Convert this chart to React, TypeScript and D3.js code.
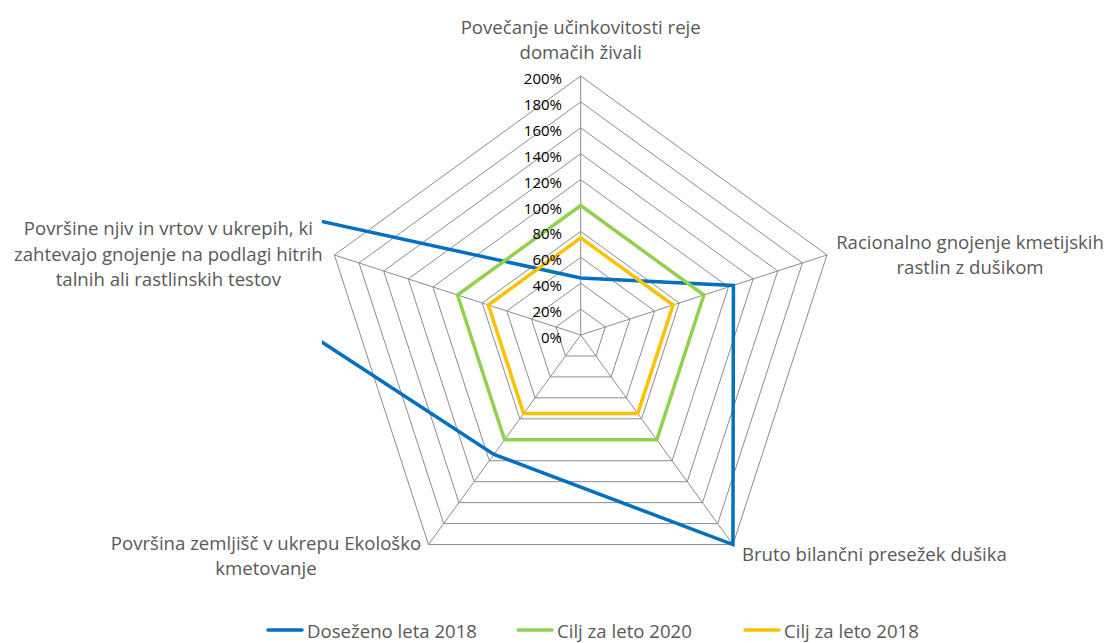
import React from 'react';
import * as d3 from 'd3';

// Axis categories (line breaks as in the original chart)
const categories = [
	['Povečanje učinkovitosti reje', 'domačih živali'],
	['Racionalno gnojenje kmetijskih', 'rastlin z dušikom'],
	['Bruto bilančni presežek dušika'],
	['Površina zemljišč v ukrepu Ekološko', 'kmetovanje'],
	[
		'Površine njiv in vrtov v ukrepih, ki',
		'zahtevajo gnojenje na podlagi hitrih',
		'talnih ali rastlinskih testov',
	],
];

// Series values (share of target)
const dosezeno2018 = [0.44, 1.24, 2.0, 1.14, 4.35];
const cilj2020 = [1.0, 1.0, 1.0, 1.0, 1.0];
const cilj2018 = [0.75, 0.75, 0.75, 0.75, 0.75];

const seriesNames = ['Doseženo leta 2018', 'Cilj za leto 2020', 'Cilj za leto 2018'];
const seriesColors = ['#0070C0', '#92D050', '#FFC000'];

const tickValues = [0, 0.2, 0.4, 0.6, 0.8, 1.0, 1.2, 1.4, 1.6, 1.8, 2.0];

const W = 1113;
const H = 643;
const cx = 580.7;
const cy = 335;
const R = 259;
const FONT = "'Open Sans', sans-serif";
const GRID = '#8c8c8c';
const TEXT = '#595959';

// label placement relative to the outer vertex of each axis
const labelLayout = [
	{ dx: 0, dy: -37.5, anchor: 'middle' },
	{ dx: 143, dy: -1.5, anchor: 'middle' },
	{ dx: 9, dy: 8.5, anchor: 'start' },
	{ dx: -162.5, dy: 10, anchor: 'middle' },
	{ dx: -166, dy: -2, anchor: 'middle' },
];

const legendX = [268, 518, 745];

export default function App() {
	const n = categories.length;
	const r = d3.scaleLinear().domain([0, 2]).range([0, R]);
	const angle = d3
		.scalePoint<number>()
		.domain(d3.range(n + 1))
		.range([0, 2 * Math.PI]);

	const point = (i: number, v: number) => {
		const a = angle(i)! - Math.PI / 2;
		return [cx + r(v) * Math.cos(a), cy + r(v) * Math.sin(a)];
	};

	const radial = d3
		.lineRadial<number>()
		.angle((_, i) => angle(i)!)
		.radius((d) => r(d))
		.curve(d3.curveLinearClosed);

	const series = [dosezeno2018, cilj2020, cilj2018];
	const lineH = 25.5;
	const pct = d3.format('.0%');

	return (
		<svg
			width={W}
			height={H}
			style={{ position: 'absolute', left: 0, top: 0, background: '#fff' }}
			fontFamily={FONT}>
			<defs>
				<clipPath id='plot'>
					<rect x={322} y={40} width={516} height={560} />
				</clipPath>
			</defs>

			{/* grid polygons */}
			<g transform={`translate(${cx},${cy})`}>
				{tickValues.slice(1).map((t) => (
					<path
						key={t}
						d={radial(categories.map(() => t)) || ''}
						fill='none'
						stroke={GRID}
						strokeWidth={1}
					/>
				))}
			</g>

			{/* spokes */}
			{categories.map((_, i) => {
				const [x, y] = point(i, 2);
				return (
					<line key={i} x1={cx} y1={cy} x2={x} y2={y} stroke={GRID} strokeWidth={1} />
				);
			})}

			{/* series, clipped to the plot area */}
			<g clipPath='url(#plot)'>
				<g transform={`translate(${cx},${cy})`}>
					{series.map((s, k) => (
						<path
							key={k}
							d={radial(s) || ''}
							fill='none'
							stroke={seriesColors[k]}
							strokeWidth={3.5}
							strokeLinejoin='miter'
						/>
					))}
				</g>
			</g>

			{/* tick labels */}
			{tickValues.map((t) => (
				<text
					key={t}
					x={cx - 18.7}
					y={cy - r(t) + 2}
					textAnchor='end'
					dominantBaseline='central'
					fontSize={15}
					fill='#000'>
					{pct(t)}
				</text>
			))}

			{/* category labels */}
			{categories.map((lines, i) => {
				const [vx, vy] = point(i, 2);
				const L = labelLayout[i];
				const y0 = vy + L.dy - ((lines.length - 1) * lineH) / 2;
				return (
					<text
						key={i}
						textAnchor={L.anchor as any}
						dominantBaseline='central'
						fontSize={18.6}
						fill={TEXT}>
						{lines.map((ln, j) => (
							<tspan key={j} x={vx + L.dx} y={y0 + j * lineH}>
								{ln}
							</tspan>
						))}
					</text>
				);
			})}

			{/* legend */}
			{seriesNames.map((name, k) => (
				<g key={name} transform={`translate(${legendX[k]},630)`}>
					<line
						x1={0}
						x2={34}
						y1={0}
						y2={0}
						stroke={seriesColors[k]}
						strokeWidth={3.5}
						strokeLinecap='round'
					/>
					<text x={39} y={0} dominantBaseline='central' fontSize={18.6} fill={TEXT}>
						{name}
					</text>
				</g>
			))}
		</svg>
	);
}
